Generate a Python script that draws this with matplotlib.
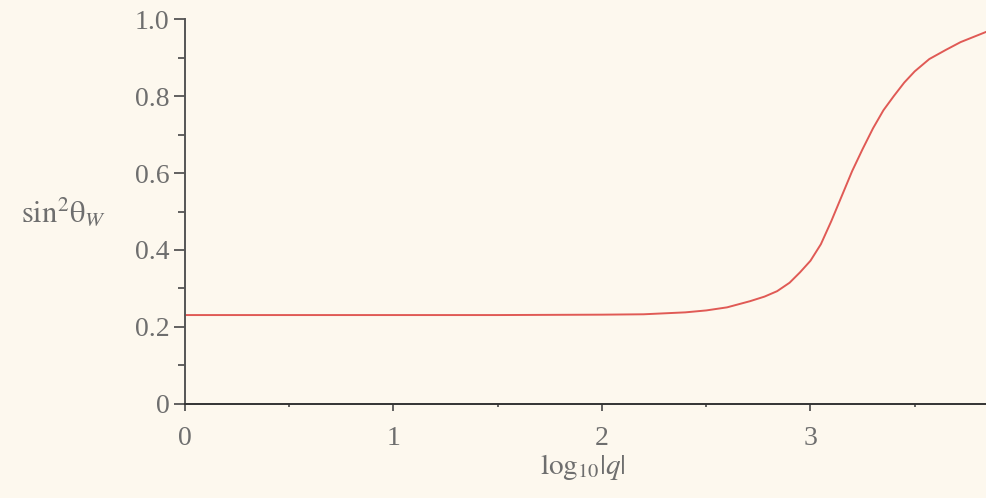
import matplotlib
matplotlib.use('Agg')
import matplotlib.pyplot as plt
from matplotlib.ticker import FixedLocator

# curve: log10|q| vs sin^2(theta_W)
log_q = [0.0, 0.5, 1.0, 1.5, 2.0, 2.2, 2.4, 2.5, 2.6, 2.71, 2.78, 2.84, 2.9,
         2.95, 3.0, 3.05, 3.1, 3.15, 3.2, 3.25, 3.3, 3.35, 3.4, 3.45, 3.5,
         3.57, 3.65, 3.72, 3.84]
sin2_theta = [0.231, 0.231, 0.231, 0.231, 0.232, 0.233, 0.238, 0.243, 0.251,
              0.267, 0.279, 0.293, 0.315, 0.342, 0.372, 0.415, 0.475, 0.54,
              0.605, 0.662, 0.716, 0.763, 0.80, 0.835, 0.864, 0.896, 0.92,
              0.94, 0.966]

x_ticks = [0, 1, 2, 3]
x_tick_labels = ['0', '1', '2', '3']
y_ticks = [0, 0.2, 0.4, 0.6, 0.8, 1.0]
y_tick_labels = ['0', '0.2', '0.4', '0.6', '0.8', '1.0']

bg = '#fdf8ee'
txt = '#6e6e6e'
plt.rcParams['font.family'] = ['Liberation Serif', 'DejaVu Serif']
plt.rcParams['mathtext.fontset'] = 'stix'

fig = plt.figure(figsize=(9.86, 4.98), dpi=100, facecolor=bg)
ax = fig.add_axes([0.1876, 0.1888, 0.8124, 0.773])
ax.set_facecolor(bg)

ax.plot(log_q, sin2_theta, color='#e05a55', lw=1.4, clip_on=False)

ax.set_xlim(0, 3.842)
ax.set_ylim(0, 1.0)

for side in ['top', 'right']:
    ax.spines[side].set_visible(False)
ax.spines['left'].set_color('#555555')
ax.spines['bottom'].set_color('#333333')
ax.spines['left'].set_linewidth(1.4)
ax.spines['bottom'].set_linewidth(1.4)

ax.xaxis.set_major_locator(FixedLocator(x_ticks))
ax.set_xticklabels(x_tick_labels)
ax.xaxis.set_minor_locator(FixedLocator([0.5, 1.5, 2.5, 3.5]))
ax.yaxis.set_major_locator(FixedLocator(y_ticks))
ax.set_yticklabels(y_tick_labels)
ax.yaxis.set_minor_locator(FixedLocator([0.1, 0.3, 0.5, 0.7, 0.9]))

ax.tick_params(axis='y', which='major', length=8, width=1.3, color='#555555',
               labelsize=20, labelcolor=txt, pad=3)
ax.tick_params(axis='y', which='minor', length=5, width=1.3, color='#555555')
ax.tick_params(axis='x', which='major', length=5, width=1.3, color='#555555',
               labelsize=20, labelcolor=txt, pad=11)
ax.tick_params(axis='x', which='minor', length=2.5, width=1.3, color='#555555')

ax.set_ylabel(r'$\mathrm{sin}^2\mathrm{θ}_W$', rotation=0, fontsize=22,
              color=txt)
ax.yaxis.set_label_coords(-0.152, 0.455)
ax.set_xlabel(r'$\mathrm{log}_{10}|q|$', fontsize=21, color=txt)
ax.xaxis.set_label_coords(0.497, -0.125)

fig.savefig('out.png', dpi=100, facecolor=bg)
